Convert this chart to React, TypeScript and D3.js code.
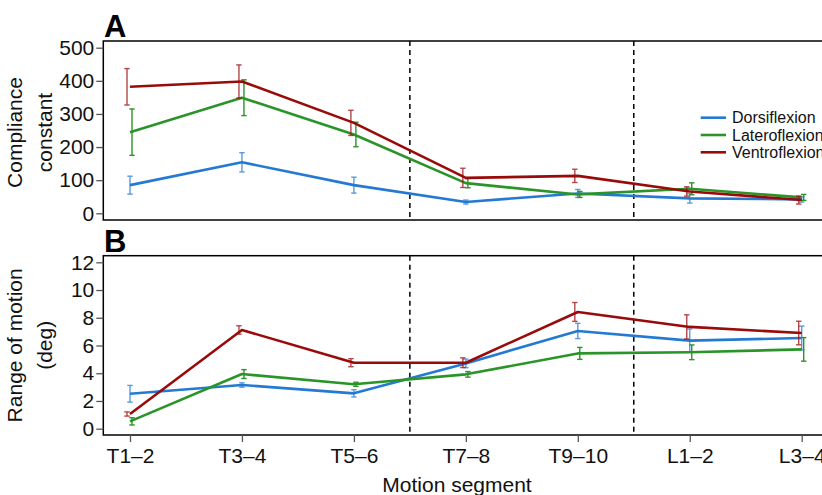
import * as d3 from "d3";
import { useEffect, useRef } from "react";

const segments = ["T1–2", "T3–4", "T5–6", "T7–8", "T9–10", "L1–2", "L3–4"];
const seriesNames = ["Dorsiflexion", "Lateroflexion", "Ventroflexion"];

// panel A: compliance constant (mean, error)
const complianceDorsi = [85, 154, 85, 34, 60, 45, 42];
const complianceDorsiErr = [27, 29, 24, 6, 12, 14, 8];
const complianceLatero = [245, 349, 238, 91, 57, 74, 48];
const complianceLateroErr = [70, 54, 37, 14, 9, 18, 9];
const complianceVentro = [382, 398, 273, 107, 113, 66, 40];
const complianceVentroErr = [55, 50, 38, 29, 20, 14, 12];

// panel B: range of motion in degrees (mean, error)
const romDorsi = [2.52, 3.15, 2.55, 4.71, 7.05, 6.35, 6.54];
const romDorsiErr = [0.6, 0.16, 0.26, 0.31, 0.55, 0.84, 0.86];
const romLatero = [0.53, 3.94, 3.2, 3.92, 5.43, 5.51, 5.72];
const romLateroErr = [0.26, 0.32, 0.15, 0.2, 0.43, 0.53, 0.85];
const romVentro = [1.06, 7.12, 4.76, 4.76, 8.42, 7.34, 6.9];
const romVentroErr = [0.15, 0.3, 0.29, 0.35, 0.68, 0.87, 0.85];

const complianceTicks = [0, 100, 200, 300, 400, 500];
const romTicks = [0, 2, 4, 6, 8, 10, 12];
// dashed lines between T5–6/T7–8 and T9–10/L1–2
const regionBreaks = [2.5, 4.5];

const colors = ["#2479d2", "#2a9429", "#990a0a"];
const errOffset = [0, 2, -3];
const FONT = "'Liberation Sans', Arial, Helvetica, sans-serif";

export default function App() {
  const ref = useRef<SVGSVGElement>(null);

  useEffect(() => {
    const svg = d3.select(ref.current);
    svg.selectAll("*").remove();

    const boxLeft = 103.3,
      boxRight = 829;

    const x = d3.scalePoint<string>().domain(segments).range([130, 801.7]);
    const xIdx = d3.scaleLinear().domain([0, segments.length - 1]).range([130, 801.7]);

    const panels = [
      {
        letter: "A",
        letterY: 37,
        top: 41,
        bottom: 220,
        y: d3.scaleLinear().domain([0, 500]).range([213.3, 47.7]),
        ticks: complianceTicks,
        label: ["Compliance", "constant"],
        means: [complianceDorsi, complianceLatero, complianceVentro],
        errs: [complianceDorsiErr, complianceLateroErr, complianceVentroErr],
      },
      {
        letter: "B",
        letterY: 252,
        top: 255.7,
        bottom: 435,
        y: d3.scaleLinear().domain([0, 12]).range([428.7, 262.3]),
        ticks: romTicks,
        label: ["Range of motion", "(deg)"],
        means: [romDorsi, romLatero, romVentro],
        errs: [romDorsiErr, romLateroErr, romVentroErr],
      },
    ];

    panels.forEach((p, pi) => {
      const g = svg.append("g");

      // dashed region separators
      regionBreaks.forEach((b) => {
        g.append("line")
          .attr("x1", xIdx(b))
          .attr("x2", xIdx(b))
          .attr("y1", p.top)
          .attr("y2", p.bottom)
          .style("stroke", "#000")
          .style("stroke-width", "1.5px")
          .style("stroke-dasharray", "5,4");
      });

      // series
      p.means.forEach((vals, si) => {
        const line = d3
          .line<number>()
          .x((d, i) => x(segments[i])!)
          .y((d) => p.y(d));
        g.append("path")
          .attr("d", line(vals))
          .style("fill", "none")
          .style("stroke", colors[si])
          .style("stroke-width", "2.6px")
          .style("stroke-linejoin", "round");

        const eb = g
          .append("g")
          .style("stroke", colors[si])
          .style("stroke-width", "1.4px")
          .style("opacity", si === 1 ? 1 : 0.75);
        vals.forEach((v, i) => {
          const cx = x(segments[i])! + errOffset[si];
          const lo = p.y(v - p.errs[si][i]);
          const hi = p.y(v + p.errs[si][i]);
          eb.append("line").attr("x1", cx).attr("x2", cx).attr("y1", lo).attr("y2", hi);
          eb.append("line").attr("x1", cx - 2.7).attr("x2", cx + 2.7).attr("y1", lo).attr("y2", lo);
          eb.append("line").attr("x1", cx - 2.7).attr("x2", cx + 2.7).attr("y1", hi).attr("y2", hi);
        });
      });

      // box
      g.append("rect")
        .attr("x", boxLeft)
        .attr("y", p.top)
        .attr("width", boxRight - boxLeft)
        .attr("height", p.bottom - p.top)
        .style("fill", "none")
        .style("stroke", "#000")
        .style("stroke-width", "1.5px");

      // y axis
      const yAxis = g
        .append("g")
        .attr("transform", `translate(${boxLeft},0)`)
        .call(d3.axisLeft(p.y).tickValues(p.ticks).tickSize(7).tickPadding(2));
      yAxis.select(".domain").remove();
      yAxis.selectAll(".tick line").style("stroke", "#555").style("stroke-width", "1.3px");
      yAxis
        .selectAll(".tick text")
        .style("font-family", FONT)
        .style("font-size", "21px")
        .style("fill", "#111");

      // y label
      const cy = (p.top + p.bottom) / 2 + (pi === 0 ? 2 : 0);
      p.label.forEach((t, li) => {
        g.append("text")
          .attr("transform", `translate(${li === 0 ? 22 : 51.5},${cy}) rotate(-90)`)
          .attr("text-anchor", "middle")
          .style("font-family", FONT)
          .style("font-size", "21px")
          .style("fill", "#111")
          .text(t);
      });

      // panel letter
      g.append("text")
        .attr("x", 104)
        .attr("y", p.letterY)
        .style("font-family", FONT)
        .style("font-size", "31px")
        .style("font-weight", "bold")
        .style("fill", "#000")
        .text(p.letter);

      if (pi === 1) {
        const xAxis = g
          .append("g")
          .attr("transform", `translate(0,${p.bottom})`)
          .call(d3.axisBottom(x).tickSize(7).tickPadding(6));
        xAxis.select(".domain").remove();
        xAxis.selectAll(".tick line").style("stroke", "#555").style("stroke-width", "1.3px");
        xAxis
          .selectAll(".tick text")
          .style("font-family", FONT)
          .style("font-size", "21px")
          .style("fill", "#111");

        g.append("text")
          .attr("x", 457)
          .attr("y", 492)
          .attr("text-anchor", "middle")
          .style("font-family", FONT)
          .style("font-size", "21px")
          .style("fill", "#111")
          .text("Motion segment");
      }
    });

    // legend
    const legend = svg.append("g");
    seriesNames.forEach((name, i) => {
      const ly = 117.7 + i * 17.3;
      legend
        .append("line")
        .attr("x1", 700.7)
        .attr("x2", 726)
        .attr("y1", ly)
        .attr("y2", ly)
        .style("stroke", colors[i])
        .style("stroke-width", "2.6px");
      legend
        .append("text")
        .attr("x", 732)
        .attr("y", ly)
        .attr("dy", "0.35em")
        .style("font-family", FONT)
        .style("font-size", "16px")
        .style("fill", "#111")
        .text(name);
    });
  }, []);

  return (
    <svg
      ref={ref}
      width={822}
      height={495}
      style={{ position: "absolute", left: 0, top: 0, background: "#fff" }}
    />
  );
}
